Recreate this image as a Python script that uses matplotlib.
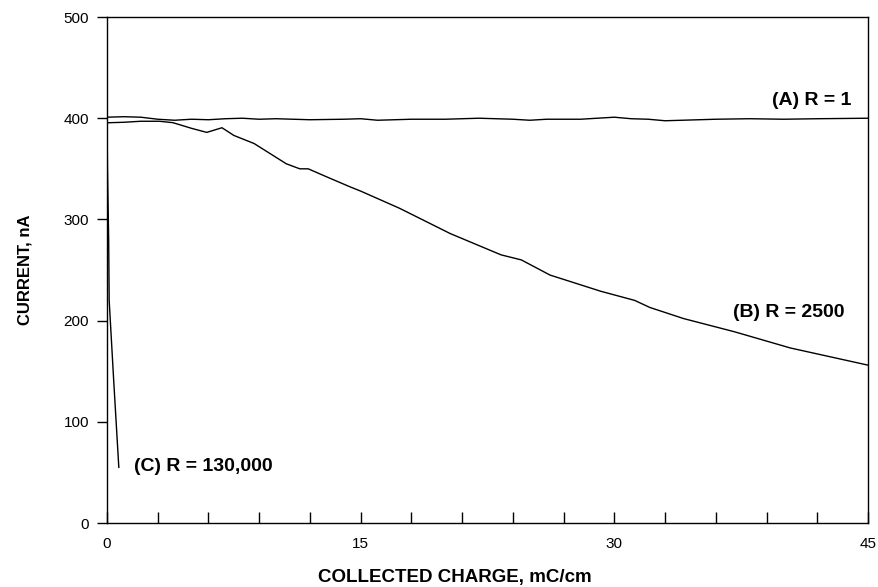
import matplotlib
matplotlib.use("Agg")
import matplotlib.pyplot as plt
from matplotlib.ticker import MultipleLocator

plt.rcParams['font.family'] = ['Liberation Sans', 'DejaVu Sans']

# Curve A: R = 1
a_x = [0, 1, 2, 3, 4, 5, 6, 7, 8, 9, 10, 12, 14, 15, 16, 18, 20, 22, 24, 25, 26,
       28, 30, 31, 32, 33, 34, 36, 38, 40, 42, 45]
a_y = [401, 401.5, 401, 399, 398, 399, 398.5, 399.5, 400, 399, 399.5, 398.5, 399,
       399.5, 398, 399, 399, 400, 399, 398, 399, 399, 401, 399.5, 399, 397.5, 398,
       399, 399.5, 399, 399.5, 400]

# Curve B: R = 2500
b_x = [0, 1, 2, 3.1, 3.9, 5.0, 5.9, 6.8, 7.5, 8.7, 10.6, 11.4, 11.9, 13.0, 14.4,
       15.0, 17.3, 20.3, 23.3, 24.5, 26.2, 29.2, 31.2, 32.1, 34.1, 37.1, 40.4, 45]
b_y = [395.5, 396, 397, 397, 395.6, 390, 386, 390.6, 383, 375, 355, 350, 350, 342,
       332, 328, 311, 286, 265, 260, 245, 229, 220, 213, 202, 189, 173, 156]

# Curve C: R = 130,000
c_x = [0, 0.03, 0.1, 0.13, 0.4, 0.7]
c_y = [400, 350, 280, 220, 140, 55]

x_ticks = [0, 15, 30, 45]
y_ticks = [0, 100, 200, 300, 400, 500]

fig = plt.figure(figsize=(8.79, 5.87), dpi=100)
ax = fig.add_axes([0.1217, 0.109, 0.8658, 0.862])

ax.plot(a_x, a_y, color='black', lw=1.0)
ax.plot(b_x, b_y, color='black', lw=1.0)
ax.plot(c_x, c_y, color='black', lw=1.0)

ax.set_xlim(0, 45)
ax.set_ylim(0, 500)
ax.set_xticks(x_ticks)
ax.set_yticks(y_ticks)
ax.xaxis.set_minor_locator(MultipleLocator(3))
ax.tick_params(axis='x', which='both', direction='in', length=8, width=1,
               labelsize=11, pad=10)
ax.tick_params(axis='y', which='both', direction='out', length=7, width=1,
               labelsize=11, pad=6)
for s in ax.spines.values():
    s.set_linewidth(1.0)

ax.set_xlabel('COLLECTED CHARGE, mC/cm', fontsize=13.5, fontweight='bold')
ax.xaxis.set_label_coords(0.457, -0.091)
ax.set_ylabel('CURRENT, nA', fontsize=12, fontweight='bold', labelpad=22)

ax.text(39.3, 418, '(A) R = 1', fontsize=14, fontweight='bold', va='center', ha='left')
ax.text(37.0, 208.5, '(B) R = 2500', fontsize=14, fontweight='bold', va='center', ha='left')
ax.text(1.6, 56, '(C) R = 130,000', fontsize=14, fontweight='bold', va='center', ha='left')

fig.savefig('out.png', dpi=100)
